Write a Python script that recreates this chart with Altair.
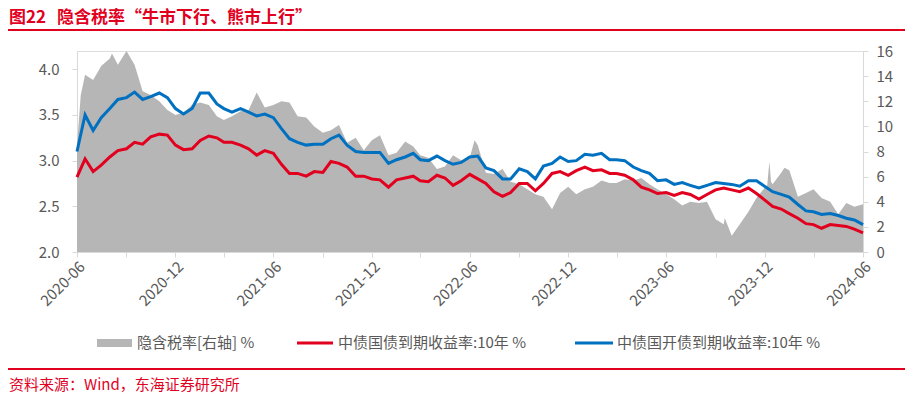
import altair as alt
import pandas as pd

# half-month grid from 2020-06-01 to 2024-06-01
dates = []
for i in range(97):
    k = 5 + i // 2
    dates.append(f"{2020 + k // 12}/{k % 12 + 1:02d}/{1 if i % 2 == 0 else 16:02d}")

# 中债国开债到期收益率:10年 %
cdb = [3.10, 3.50, 3.33, 3.47, 3.57, 3.67, 3.69, 3.75, 3.67, 3.70,
       3.74, 3.69, 3.57, 3.51, 3.57, 3.74, 3.74, 3.62, 3.57, 3.53,
       3.57, 3.53, 3.49, 3.51, 3.47, 3.35, 3.24, 3.20, 3.17, 3.18,
       3.18, 3.24, 3.28, 3.17, 3.10, 3.09, 3.09, 3.09, 2.97, 3.01,
       3.04, 3.08, 3.01, 3.00, 3.05, 3.00, 2.96, 2.98, 3.04, 3.05,
       2.92, 2.89, 2.80, 2.80, 2.91, 2.88, 2.80, 2.94, 2.97, 3.04,
       2.99, 3.00, 3.07, 3.06, 3.08, 3.01, 3.01, 3.00, 2.93, 2.89,
       2.86, 2.78, 2.79, 2.74, 2.76, 2.73, 2.70, 2.73, 2.76, 2.75,
       2.74, 2.72, 2.78, 2.78, 2.72, 2.66, 2.63, 2.60, 2.52, 2.45,
       2.44, 2.41, 2.42, 2.40, 2.37, 2.35, 2.30]

# 中债国债到期收益率:10年 %
cgb = [2.82, 3.02, 2.88, 2.95, 3.04, 3.11, 3.13, 3.20, 3.18, 3.26,
       3.29, 3.28, 3.17, 3.12, 3.13, 3.22, 3.27, 3.25, 3.20, 3.20,
       3.17, 3.13, 3.06, 3.11, 3.08, 2.96, 2.86, 2.86, 2.83, 2.88,
       2.87, 2.99, 2.97, 2.93, 2.83, 2.83, 2.80, 2.79, 2.71, 2.79,
       2.81, 2.83, 2.78, 2.77, 2.84, 2.81, 2.73, 2.78, 2.85, 2.80,
       2.75, 2.66, 2.61, 2.65, 2.75, 2.75, 2.67, 2.75, 2.86, 2.88,
       2.84, 2.89, 2.93, 2.89, 2.90, 2.86, 2.86, 2.84, 2.79, 2.71,
       2.68, 2.64, 2.65, 2.62, 2.65, 2.63, 2.58, 2.63, 2.68, 2.70,
       2.68, 2.66, 2.70, 2.64, 2.57, 2.50, 2.47, 2.42, 2.37, 2.31,
       2.30, 2.26, 2.30, 2.29, 2.28, 2.25, 2.21]

# 隐含税率[右轴] % (on the same half-month grid)
tax = [8.5, 14.1, 13.7, 14.8, 15.4, 14.9, 16.0, 14.9, 12.8, 12.5,
       12.0, 11.3, 10.9, 11.1, 11.7, 11.9, 11.7, 10.8, 10.5, 10.8,
       11.2, 11.3, 12.7, 11.5, 11.7, 12.0, 11.9, 10.8, 10.7, 10.0,
       9.5, 9.7, 10.1, 8.7, 9.1, 8.1, 8.9, 9.3, 7.7, 7.9,
       8.8, 8.4, 7.7, 7.5, 6.6, 6.8, 7.7, 7.3, 7.5, 8.5,
       6.3, 6.2, 6.6, 5.6, 5.4, 5.0, 4.6, 4.4, 3.4, 4.7,
       5.2, 4.6, 5.0, 5.2, 5.7, 5.5, 5.5, 5.8, 5.7, 5.9,
       5.4, 5.0, 4.6, 4.2, 3.7, 4.0, 3.9, 4.0, 2.6, 2.2,
       1.3, 2.2, 3.2, 4.3, 5.1, 5.4, 6.3, 6.5, 4.4, 4.7,
       5.0, 4.3, 4.0, 3.0, 3.9, 3.6, 3.8]

# a few extra readings of the implied tax rate between grid dates (spikes)
tax_extra_dates = ["2020/06/08", "2020/08/05", "2022/06/10",
                   "2023/09/18", "2023/12/06", "2023/12/10", "2023/12/13", "2024/01/07"]
tax_extra = [12.5, 15.8, 8.9, 2.7, 5.3, 7.2, 5.6, 6.7]

tick_months = [(2020, 6), (2020, 9), (2020, 12), (2021, 3), (2021, 6), (2021, 9),
               (2021, 12), (2022, 3), (2022, 6), (2022, 9), (2022, 12), (2023, 3),
               (2023, 6), (2023, 9), (2023, 12), (2024, 3), (2024, 6)]
left_ticks = [2.0, 2.5, 3.0, 3.5, 4.0]
right_ticks = [0, 2, 4, 6, 8, 10, 12, 14, 16]

title_no = "图22"
title_text = "隐含税率“牛市下行、熊市上行”"
legend_labels = ["隐含税率[右轴] %", "中债国债到期收益率:10年 %", "中债国开债到期收益率:10年 %"]
source_text = "资料来源：Wind，东海证券研究所"

RED = "#E2001F"
BLUE = "#0070C0"
GREY = "#B6B6B6"
TXT = "#595959"
AX = "#D9D9D9"
FONT = "Noto Sans CJK SC"

df = pd.DataFrame({"date": dates, "cdb": cdb, "cgb": cgb})
tax_df = pd.DataFrame({"date": dates + tax_extra_dates, "tax": tax + tax_extra})
tax_df["_k"] = pd.to_datetime(tax_df["date"], format="%Y/%m/%d")
tax_df = tax_df.sort_values("_k").drop(columns="_k").reset_index(drop=True)
one = pd.DataFrame({"a": [0]})

xdom = [alt.DateTime(year=2020, month=6, date=1), alt.DateTime(year=2024, month=6, date=1)]
xaxis = alt.Axis(values=[alt.DateTime(year=y, month=m, date=1) for y, m in tick_months],
                 format="%Y-%m", labelAngle=-45, labelFontSize=15, labelColor=TXT,
                 labelFont=FONT, tickColor=AX, domainColor=AX, tickSize=5,
                 labelPadding=2, grid=False, title=None)
xenc = alt.X("date:T", scale=alt.Scale(domain=xdom), axis=xaxis)

area = alt.Chart(tax_df).mark_area(color=GREY, opacity=1).encode(
    x=xenc,
    y=alt.Y("tax:Q", stack=None, scale=alt.Scale(domain=[0, 16], nice=False, zero=True),
            axis=alt.Axis(orient="right", values=right_ticks, format="d", labelFontSize=15,
                          labelColor=TXT, labelFont=FONT, tickColor=AX, domainColor=AX,
                          tickSize=5, labelPadding=8, grid=False, title=None,
                          labelFlush=False, labelOverlap=False)),
)

red = alt.Chart(df).mark_line(color=RED, strokeWidth=3).encode(
    x=xenc,
    y=alt.Y("cgb:Q", scale=alt.Scale(domain=[2.0, 4.2], nice=False),
            axis=alt.Axis(orient="left", values=left_ticks, format=".1f", labelFontSize=15,
                          labelColor=TXT, labelFont=FONT, tickColor=AX, domainColor=AX,
                          tickSize=5, labelPadding=13, grid=False, title=None)),
)

blue = alt.Chart(df).mark_line(color=BLUE, strokeWidth=3).encode(
    x=xenc,
    y=alt.Y("cdb:Q", scale=alt.Scale(domain=[2.0, 4.2], nice=False), axis=None),
)


def txt(s, x, y, color, size, weight="normal"):
    return alt.Chart(one).mark_text(text=s, align="left", baseline="middle", font=FONT,
                                    fontSize=size, fontWeight=weight, color=color).encode(
        x=alt.value(x), y=alt.value(y))


def hrule(x1, x2, y, color, w):
    return alt.Chart(one).mark_rule(color=color, strokeWidth=w).encode(
        x=alt.value(x1), x2=alt.value(x2), y=alt.value(y))


ann = [
    txt(title_no, -68, -33.5, RED, 17, "bold"),
    txt(title_text, -20, -33.5, RED, 17, "bold"),
    hrule(-69, 828, -21, RED, 2),
    alt.Chart(one).mark_rect(color=GREY).encode(
        x=alt.value(20), x2=alt.value(55), y=alt.value(288), y2=alt.value(296)),
    txt(legend_labels[0], 60, 292, TXT, 15),
    hrule(220, 256, 292, RED, 3),
    txt(legend_labels[1], 261, 292, TXT, 15),
    hrule(498, 536, 292, BLUE, 3),
    txt(legend_labels[2], 540, 292, TXT, 15),
    hrule(-69, 828, 318, RED, 2),
    txt(source_text, -68, 334, RED, 15),
]

chart = alt.layer(area, red, blue, *ann).resolve_scale(y="independent").properties(
    width=786, height=201,
    autosize=alt.AutoSizeParams(type="none"),
    padding={"left": 69, "top": 43, "right": 42, "bottom": 148},
).configure_view(stroke=None).configure(background="white")

chart.save("out.html", embed_options={"renderer": "svg", "actions": False})
